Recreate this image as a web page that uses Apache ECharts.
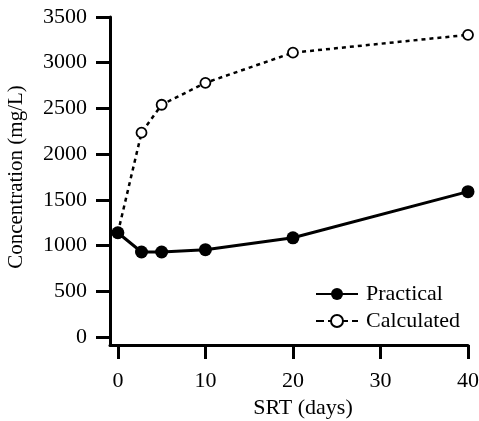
<!DOCTYPE html>
<html>
<head>
<meta charset="utf-8">
<script src="https://cdn.jsdelivr.net/npm/echarts@6/dist/echarts.min.js"></script>
<style>
  html, body { margin: 0; padding: 0; background: #fff; }
  #chart { width: 479px; height: 421px; }
</style>
</head>
<body>
<div id="chart"></div>
<script>
// SRT (days) and concentrations (mg/L)
const srt = [0, 2.7, 5, 10, 20, 40];
const practical = [1140, 930, 930, 955, 1085, 1590];
const calculated = [1140, 2235, 2540, 2780, 3110, 3305];
const xTicks = [0, 10, 20, 30, 40];
const yTicks = [0, 500, 1000, 1500, 2000, 2500, 3000, 3500];

const font = 'Liberation Serif';

function pairs (xs, ys) {
  return xs.map((x, i) => [x, ys[i]]);
}

const myChart = echarts.init(document.getElementById('chart'));
const option = {
  backgroundColor: '#fff',
  animation: false,
  grid: { left: 110, right: 11, top: 17, bottom: 76, outerBoundsMode: 'none', containLabel: false },
  legend: {
    orient: 'vertical',
    left: 310,
    top: 278,
    itemWidth: 42,
    itemHeight: 15,
    itemGap: 5,
    textStyle: { fontFamily: font, fontSize: 22, color: '#000', padding: [0, 0, 0, 3] },
    data: [
      { name: 'Practical' },
      { name: 'Calculated', lineStyle: { type: 'dashed', width: 2, color: '#000' } }
    ]
  },
  xAxis: {
    type: 'value',
    min: -0.9,
    max: 40,
    name: 'SRT (days)',
    nameLocation: 'middle',
    nameGap: 51,
    nameTextStyle: { fontFamily: font, fontSize: 22, color: '#000', padding: [0, 0, 0, 28] },
    splitLine: { show: false },
    axisLine: { onZero: false, lineStyle: { color: '#000', width: 3 } },
    axisTick: { customValues: xTicks, length: 14, lineStyle: { color: '#000', width: 3 } },
    axisLabel: { customValues: xTicks, margin: 25, fontFamily: font, fontSize: 22, color: '#000', formatter: v => String(v) }
  },
  yAxis: {
    type: 'value',
    min: -87.5,
    max: 3500,
    name: 'Concentration (mg/L)',
    nameLocation: 'middle',
    nameGap: 83,
    nameTextStyle: { fontFamily: font, fontSize: 21, color: '#000', padding: [0, 0, 0, 8] },
    splitLine: { show: false },
    axisLine: { onZero: false, lineStyle: { color: '#000', width: 3 } },
    axisTick: { customValues: yTicks, length: 14, lineStyle: { color: '#000', width: 3 } },
    axisLabel: { customValues: yTicks, margin: 23, fontFamily: font, fontSize: 22, color: '#000', formatter: v => String(v) }
  },
  series: [
    {
      name: 'Practical',
      type: 'line',
      data: pairs(srt, practical),
      symbol: 'circle',
      symbolSize: 13,
      itemStyle: { color: '#000' },
      lineStyle: { color: '#000', width: 3 },
      z: 3
    },
    {
      name: 'Calculated',
      type: 'line',
      data: pairs(srt, calculated),
      symbol: 'circle',
      symbolSize: 10,
      itemStyle: { color: '#fff', borderColor: '#000', borderWidth: 1.8 },
      lineStyle: { color: '#000', width: 2.5, type: [4, 4] },
      z: 2
    }
  ]
};
myChart.setOption(option, true);
</script>
</body>
</html>
